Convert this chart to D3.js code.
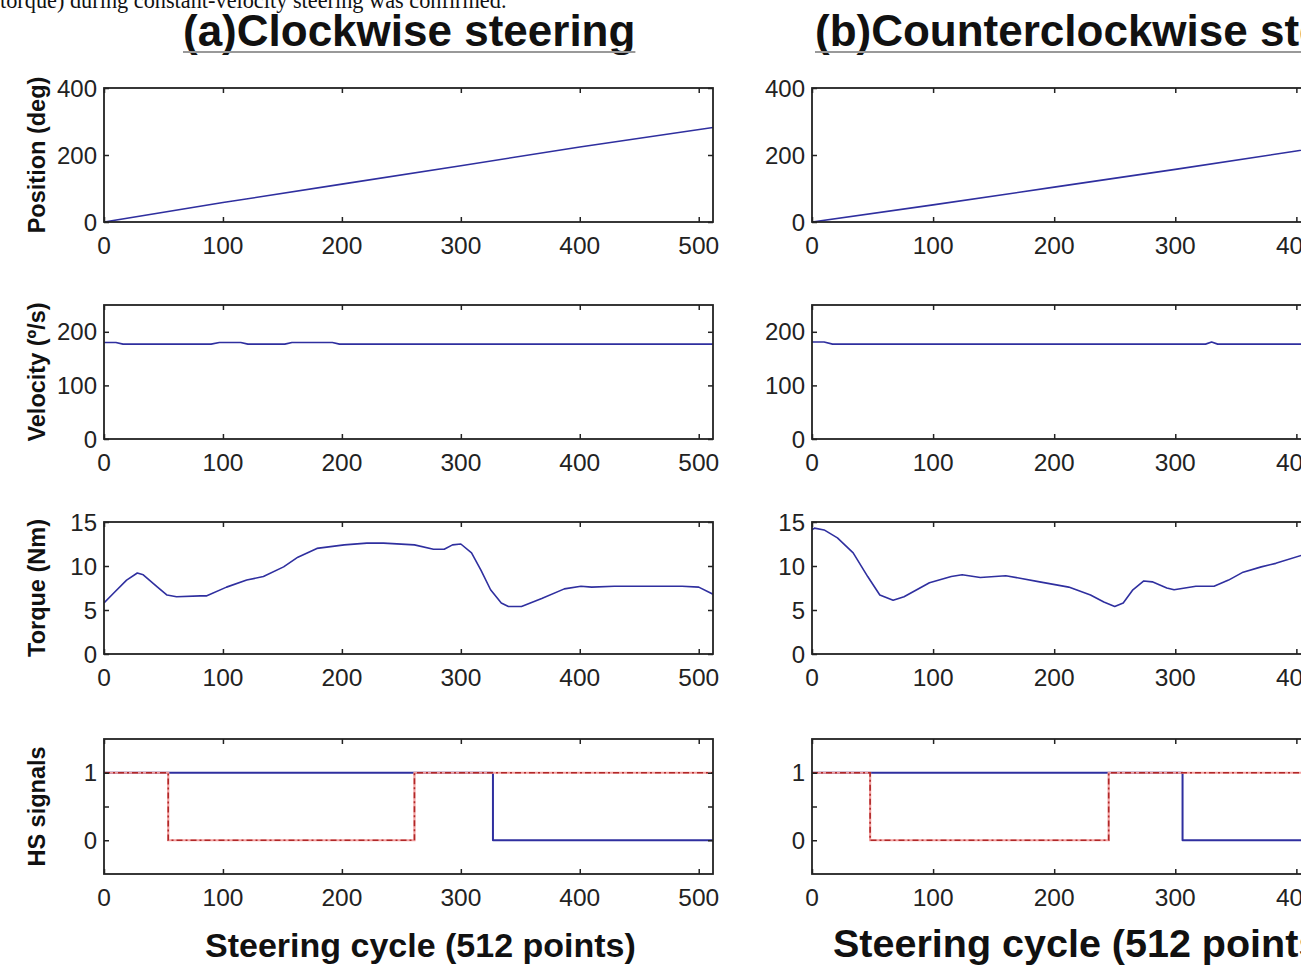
<!DOCTYPE html>
<html>
<head>
<meta charset="utf-8">
<script src="https://cdn.jsdelivr.net/npm/d3@7"></script>
<style>
  html, body { margin: 0; padding: 0; background: #fff; overflow: hidden; }
  svg { display: block; }
</style>
</head>
<body>
<script>
var width = 1301;
var height = 973;

// x ticks shared by both panels
var xTicks = [0, 100, 200, 300, 400, 500];

// (a) clockwise steering
var posA = [[0,0],[100,58],[200,113],[300,168],[400,224],[512,282]];
var velA = [[0,180],[10,180],[16,177],[90,177],[97,180],[115,180],[121,177],[152,177],[158,180],[192,180],[198,177],[512,177]];
var torqueA = [[0,5.8],[8,6.9],[19,8.4],[28,9.2],[33,9.0],[45,7.6],[53,6.7],[61,6.5],[81,6.6],[86,6.6],[103,7.6],[120,8.4],[134,8.8],[151,9.9],[163,11.0],[179,12.0],[202,12.4],[221,12.6],[235,12.6],[261,12.4],[277,11.9],[286,11.9],[293,12.4],[300,12.5],[309,11.5],[317,9.5],[325,7.3],[334,5.8],[340,5.4],[351,5.4],[368,6.3],[387,7.4],[401,7.7],[410,7.6],[429,7.7],[486,7.7],[500,7.6],[512,6.8]];
var hsBlueA = [[0,1],[327,1],[327,0],[512,0]];
var hsRedA = [[0,1],[54,1],[54,0],[261,0],[261,1],[512,1]];

// (b) counterclockwise steering (right part is cut off in the picture)
var posB = [[0,0],[100,51],[200,104],[300,157],[400,212],[512,272]];
var velB = [[0,181],[10,181],[17,177],[325,177],[330,181],[335,177],[512,177]];
var torqueB = [[0,14.1],[2,14.3],[10,14.1],[21,13.2],[34,11.5],[46,8.8],[56,6.7],[67,6.1],[76,6.5],[97,8.1],[115,8.8],[124,9.0],[139,8.7],[151,8.8],[160,8.9],[188,8.2],[212,7.6],[230,6.7],[241,5.9],[250,5.4],[257,5.8],[265,7.3],[274,8.3],[281,8.2],[293,7.5],[299,7.3],[317,7.7],[332,7.7],[344,8.4],[356,9.3],[371,9.9],[383,10.3],[404,11.2],[415,11.6]];
var hsBlueB = [[0,1],[306,1],[306,0],[512,0]];
var hsRedB = [[0,1],[48,1],[48,0],[245,0],[245,1],[512,1]];

var rows = [
  { label: 'Position (deg)', top: 88,  bottom: 222, domain: [0, 400],    ticks: [0, 200, 400],   labels: ['0','200','400'] },
  { label: 'Velocity (º/s)', top: 305, bottom: 439, domain: [0, 250],    ticks: [0, 100, 200],   labels: ['0','100','200'] },
  { label: 'Torque (Nm)',    top: 522, bottom: 654, domain: [0, 15],     ticks: [0, 5, 10, 15],  labels: ['0','5','10','15'] },
  { label: 'HS signals',     top: 739, bottom: 874, domain: [-0.5, 1.5], ticks: [0, 0.5, 1],     labels: ['0','','1'] }
];

var panels = [
  { id: 'a', left: 104, right: 713, title: '(a)Clockwise steering', titleX: 183, xlabelX: 205, xlabelSize: 34, yLabels: true,
    series: [[posA], [velA], [torqueA], [hsBlueA, hsRedA]] },
  { id: 'b', left: 812, right: 1432, title: '(b)Counterclockwise steering', titleX: 815, xlabelX: 833, xlabelSize: 39.5, yLabels: false,
    series: [[posB], [velB], [torqueB], [hsBlueB, hsRedB]] }
];

var FONT = '"Liberation Sans", Arial, sans-serif';
var BLUE = '#2f2f9f';

var svg = d3.select('body').append('svg')
  .attr('width', width)
  .attr('height', height);

svg.append('rect').attr('width', width).attr('height', height).attr('fill', '#fff');

// cut-off line of the surrounding paper text
svg.append('text')
  .attr('x', 0).attr('y', 8)
  .attr('font-family', '"Liberation Serif", "Times New Roman", serif')
  .attr('font-size', 22.3)
  .attr('fill', '#111')
  .text('torque) during constant-velocity steering was confirmed.');

var line = d3.line().curve(d3.curveLinear);

panels.forEach(function(p){
  var g = svg.append('g');
  var x = d3.scaleLinear().domain([0, 512]).range([p.left, p.right]);

  // title with its grey underline
  var title = g.append('text')
    .attr('x', p.titleX).attr('y', 46)
    .attr('font-family', FONT).attr('font-weight', 'bold')
    .attr('font-size', 44).attr('fill', '#111')
    .text(p.title);
  var tw = title.node().getComputedTextLength();
  g.append('line')
    .attr('x1', p.titleX).attr('x2', p.titleX + tw)
    .attr('y1', 52).attr('y2', 52)
    .attr('stroke', '#999').attr('stroke-width', 2);

  rows.forEach(function(r, i){
    var y = d3.scaleLinear().domain(r.domain).range([r.bottom, r.top]);
    var cg = g.append('g');
    var clipId = 'clip-' + p.id + i;
    cg.append('clipPath').attr('id', clipId).append('rect')
      .attr('x', p.left).attr('y', r.top)
      .attr('width', p.right - p.left).attr('height', r.bottom - r.top);

    var plot = cg.append('g').attr('clip-path', 'url(#' + clipId + ')');
    var s = p.series[i];
    line.x(function(d){ return x(d[0]); }).y(function(d){ return y(d[1]); });

    // first series blue
    plot.append('path')
      .attr('d', line(s[0]))
      .attr('fill', 'none').attr('stroke', BLUE)
      .attr('stroke-width', i == 3 ? 2 : 1.6)
      .attr('stroke-linejoin', 'round');

    if(s[1]){
      // dash-dot red signal, pale halo underneath like the original
      plot.append('path')
        .attr('d', line(s[1]))
        .attr('fill', 'none').attr('stroke', '#f3a0a0')
        .attr('stroke-width', 2.2);
      plot.append('path')
        .attr('d', line(s[1]))
        .attr('fill', 'none').attr('stroke', '#b02828')
        .attr('stroke-width', 1.6)
        .attr('stroke-dasharray', '6,3,2,3');
    }

    // frame
    cg.append('rect')
      .attr('x', p.left).attr('y', r.top)
      .attr('width', p.right - p.left).attr('height', r.bottom - r.top)
      .attr('fill', 'none').attr('stroke', '#222').attr('stroke-width', 1.8);

    // inward ticks, bottom and top
    var xb = d3.axisBottom(x).tickValues(xTicks).tickSizeInner(-5).tickSizeOuter(0).tickFormat('');
    var xt = d3.axisTop(x).tickValues(xTicks).tickSizeInner(-5).tickSizeOuter(0).tickFormat('');
    var yl = d3.axisLeft(y).tickValues(r.ticks).tickSizeInner(-5).tickSizeOuter(0).tickFormat('');
    var yr = d3.axisRight(y).tickValues(r.ticks).tickSizeInner(-5).tickSizeOuter(0).tickFormat('');
    [[xb, 'translate(0,' + r.bottom + ')'], [xt, 'translate(0,' + r.top + ')'],
     [yl, 'translate(' + p.left + ',0)'], [yr, 'translate(' + p.right + ',0)']].forEach(function(a){
      var ag = cg.append('g').attr('transform', a[1]).call(a[0]);
      ag.select('.domain').remove();
      ag.selectAll('line').attr('stroke', '#222').attr('stroke-width', 1.5);
    });

    // tick labels
    cg.selectAll('.xl').data(xTicks).enter().append('text')
      .attr('x', function(d){ return x(d); })
      .attr('y', r.bottom + 32)
      .attr('text-anchor', 'middle')
      .attr('font-family', FONT).attr('font-size', 24.5).attr('fill', '#222')
      .text(function(d){ return d; });

    cg.selectAll('.yl').data(r.ticks).enter().append('text')
      .attr('x', p.left - 7)
      .attr('y', function(d){ return y(d) + 8.5; })
      .attr('text-anchor', 'end')
      .attr('font-family', FONT).attr('font-size', 24).attr('fill', '#222')
      .text(function(d, j){ return r.labels[j]; });

    if(p.yLabels){
      var cy = (r.top + r.bottom) / 2;
      cg.append('text')
        .attr('transform', 'translate(45,' + cy + ') rotate(-90)')
        .attr('text-anchor', 'middle')
        .attr('font-family', FONT).attr('font-weight', 'bold')
        .attr('font-size', 23.5).attr('fill', '#111')
        .text(r.label);
    }
  });

  g.append('text')
    .attr('x', p.xlabelX).attr('y', 957)
    .attr('font-family', FONT).attr('font-weight', 'bold')
    .attr('font-size', p.xlabelSize).attr('fill', '#111')
    .text('Steering cycle (512 points)');
});
</script>
</body>
</html>
